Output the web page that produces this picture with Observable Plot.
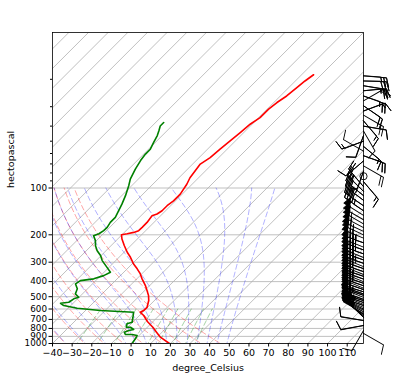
<!DOCTYPE html>
<html><head><meta charset="utf-8">
<script src="https://cdn.jsdelivr.net/npm/d3@7"></script>
<script src="https://cdn.jsdelivr.net/npm/@observablehq/plot@0.6"></script>
<style>html,body{margin:0;padding:0;background:#fff}#chart{width:400px;height:381px}</style>
</head><body><div id="chart"></div>
<script>
// ---- axis ticks ----
const xTicks = [-40,-30,-20,-10,0,10,20,30,40,50,60,70,80,90,100,110];
const yTicks = [100,200,300,400,500,600,700,800,900,1000];
const yMinorTicks = [20,30,40,50,60,70,80,90];
const isotherms = [-190,-180,-170,-160,-150,-140,-130,-120,-110,-100,-90,-80,-70,-60,-50,-40,-30,-20,-10,0,10,20,30,40,50,60,70,80,90,100,110];
const dryT0 = [-40,-30,-20,-10,0,10,20,30,40,50];
const moistT0 = [-40,-30,-20,-10,0,5,10,15,20,25,30,35,40,45,50];
const mixingRatios = [0.0004,0.001,0.002,0.004,0.007,0.01,0.016,0.024,0.032];

// ---- temperature profile (hPa, degC) ----
const tempP = [1000,911,846,786,722,661,630,614,585,529,492,457,424,384,357,331,308,279,259,235,213,200,197,193,188,179,166.5,150.6,147,140,130,121,109.5,94.6,85.9,70.2,63.7,56.3,49.8,44.0,38.9,35.3,31.1,28.2,25.6,22.5,20.5,18.7];
const tempT = [19.5,11.7,7.2,2.8,-2.9,-7.8,-11.2,-10.4,-10.3,-12.9,-15.5,-18.8,-22.2,-27.3,-30.7,-34.9,-39.2,-44.2,-48.4,-53.2,-57.8,-60.2,-57.8,-55.2,-53.6,-53.5,-53.5,-54.4,-52.7,-51.8,-51.8,-51.0,-51.0,-52.7,-54.4,-56.1,-54.4,-53.6,-52.7,-51.8,-51.0,-49.3,-49.3,-48.4,-46.8,-45.9,-45.1,-43.9];

// ---- dewpoint profile (hPa, degC) ----
const dewP = [1000,933,889,875,875,846,825,813,786,786,747,730,678,630,614,593,570,551,543,516,504,480,445,414,394,384,366,348,324,293,272,253,235,218,203,197,188,179,166.5,154.6,140,127,112,96.7,87.6,75.6,66.6,60.5,56.3,51.1,46.0,42.7,39.9,37.9];
const dewT = [0.5,-0.2,-1.0,-4.1,-7.5,-9.2,-7.8,-5.8,-8.6,-10.7,-12.1,-10.3,-12.4,-14.6,-32.4,-45.4,-53.6,-56.4,-52.7,-51.9,-50.2,-53.6,-55.2,-58.6,-57.8,-51.9,-48.5,-46.8,-51.0,-56.9,-60.3,-64.5,-67.9,-70.5,-73.9,-72.2,-71.4,-71.3,-72.2,-72.2,-73.9,-75.6,-78.1,-81.5,-84.1,-86.6,-88.3,-89.1,-89.1,-90.8,-92.5,-94.2,-95.9,-95.9];

// ---- winds (hPa, direction deg, speed kt) ----
const windP = [860,825,766,712,680,665,650,640,625,610,600,585,570,560,545,530,520,505,490,480,465,450,440,425,410,400,385,370,360,345,330,320,305,290,280,265,250,240,225,210,200,190,180,170,160,150,140,130,120,112,105,98,91,84,78,72,67,62,58,54,50,46,43,40,37,34,32,29.6,27.5,25.6,23.7,22,20.5,19];
const windDir = [120,210,260,280,315,310,305,300,298,295,295,292,290,292,290,288,290,292,290,290,288,290,292,290,290,292,290,290,292,290,290,292,290,290,292,290,290,292,290,292,295,295,298,300,300,302,305,305,308,310,315,320,140,0,200,120,230,110,300,130,250,200,150,100,140,120,70,125,60,110,85,100,92,95];
const windSpd = [10,10,10,10,30,35,40,45,50,55,55,60,60,65,60,55,60,65,65,60,55,55,60,65,70,70,65,60,60,65,70,75,75,70,70,75,80,80,75,70,65,60,55,55,50,50,45,40,35,30,25,20,15,0,5,20,10,20,10,15,15,10,10,10,15,20,15,20,20,25,20,25,30,25];

// ---- geometry of the skew ----
const X0 = -40, X1 = 118.3, SPAN = X1 - X0;
const skewX = (t, p) => t + SPAN * Math.log10(1000 / p) / 2;

const temp = tempP.map((p, i) => ({p, x: skewX(tempT[i], p)}));
const dew = dewP.map((p, i) => ({p, x: skewX(dewT[i], p)}));
const wind = windP.map((p, i) => ({p, dir: windDir[i], spd: windSpd[i]}));

// ---- background thermodynamic lines (MetPy defaults) ----
const Rd = 287.04749, Cp = 1004.6662, Lv = 2.50084e6, EPS = 0.621957, KAPPA = Rd / Cp;
const bgP = d3.range(1050, 99, -5);
const dry = [];
dryT0.forEach(t0 => bgP.forEach(p => dry.push({id: t0, p, x: skewX((t0 + 273.15) * Math.pow(p / 1050, KAPPA) - 273.15, p)})));
function satMix(T, p) { const es = 6.112 * Math.exp(17.67 * (T - 273.15) / (T - 29.65)); return EPS * es / (p - es); }
function dTdp(T, p) { const rs = satMix(T, p); return (Rd * T + Lv * rs) / (Cp + Lv * Lv * rs * EPS / (Rd * T * T)) / p; }
const moist = [];
moistT0.forEach(t0 => {
  let T = t0 + 273.15;
  bgP.forEach((p, i) => {
    if (i > 0) {
      const p0 = bgP[i - 1], h = p - p0;
      const k1 = dTdp(T, p0), k2 = dTdp(T + h / 2 * k1, p0 + h / 2), k3 = dTdp(T + h / 2 * k2, p0 + h / 2), k4 = dTdp(T + h * k3, p0 + h);
      T += h / 6 * (k1 + 2 * k2 + 2 * k3 + k4);
    }
    moist.push({id: t0, p, x: skewX(T - 273.15, p)});
  });
});
const mixP = d3.range(1050, 599, -10);
const mixing = [];
mixingRatios.forEach(w => mixP.forEach(p => {
  const e = p * w / (EPS + w), v = Math.log(e / 6.112);
  mixing.push({id: w, p, x: skewX(243.5 * v / (17.67 - v), p)});
}));

// ---- wind barb shape (matplotlib geometry) ----
const B = 3.3;
const barbShape = {
  draw(ctx, l) {
    let s = Math.round(l / 5) * 5;
    const len = 7, fh = 2.8, fw = 1.75, sp = 0.875;
    const nf = Math.floor(s / 50); s -= nf * 50;
    const nb = Math.floor(s / 10); s -= nb * 10;
    const half = s >= 5;
    const pts = [];
    let off = len;
    for (let i = 0; i < nf; i++) {
      if (off !== len) off += sp / 2;
      pts.push([0, off], [fh, off - fw / 2], [0, off - fw]);
      off -= fw + sp;
    }
    for (let i = 0; i < nb; i++) { pts.push([0, off], [fh, off + fw / 2], [0, off]); off -= sp; }
    if (half) {
      if (off === len) { pts.push([0, off]); off -= 1.5 * sp; }
      pts.push([0, off], [fh / 2, off + fw / 4], [0, off]);
    }
    ctx.moveTo(0, 0);
    for (const [x, y] of pts) ctx.lineTo(x * B, -y * B);
    ctx.closePath();
  }
};

const fmt = d => d < 0 ? "\u2212" + (-d) : String(d);
const grid = "#b0b0b0";

const chart = Plot.plot({
  width: 400, height: 381,
  marginLeft: 52, marginRight: 37, marginTop: 32, marginBottom: 38,
  style: {fontFamily: "DejaVu Sans", fontSize: "9px", background: "#fff", color: "#000", overflow: "visible"},
  x: {domain: [X0, X1]},
  y: {type: "log", domain: [1000, 10]},
  length: {type: "identity"},
  marks: [
    Plot.link(isotherms, {x1: d => d, y1: () => 1000, x2: d => d + SPAN, y2: () => 10, stroke: grid, strokeWidth: 0.8, clip: true}),
    Plot.ruleY(yTicks, {stroke: grid, strokeWidth: 0.8}),
    Plot.line(dry, {x: "x", y: "p", z: "id", stroke: "#ff0000", strokeOpacity: 0.4, strokeWidth: 0.9, strokeDasharray: "5,3", clip: true}),
    Plot.line(moist, {x: "x", y: "p", z: "id", stroke: "#0000ff", strokeOpacity: 0.35, strokeWidth: 0.9, strokeDasharray: "5,3", clip: true}),
    Plot.line(mixing, {x: "x", y: "p", z: "id", stroke: "#008000", strokeOpacity: 0.4, strokeWidth: 0.9, strokeDasharray: "5,3", clip: true}),
    Plot.line(temp, {x: "x", y: "p", stroke: "#ff0000", strokeWidth: 1.6, clip: true}),
    Plot.line(dew, {x: "x", y: "p", stroke: "#008000", strokeWidth: 1.6, clip: true}),
    Plot.frame({stroke: "#000", strokeWidth: 0.8}),
    Plot.axisX(xTicks, {tickSize: 3.5, tickPadding: 2, tickFormat: fmt, label: null, fontSize: 9.5}),
    Plot.axisY(yTicks, {tickSize: 3.5, tickFormat: () => "", label: null}),
    Plot.text(yTicks, {x: X0, y: d => d, text: d => String(d), textAnchor: "end", dx: -5.5, fontSize: 8.8}),
    Plot.axisY(yMinorTicks, {tickSize: 2, tickFormat: () => "", label: null}),
    Plot.text(["degree_Celsius"], {frameAnchor: "bottom", dy: 27, fontSize: 9.5}),
    Plot.text(["hectopascal"], {frameAnchor: "left", dx: -42, rotate: -90, fontSize: 9.5}),
    Plot.vector(wind.filter(d => d.spd >= 5), {x: () => X1, y: "p", rotate: "dir", length: "spd", anchor: "start", shape: barbShape, stroke: "#000", fill: "#000", strokeWidth: 0.9}),
    Plot.dot(wind.filter(d => d.spd < 5), {x: () => X1, y: "p", r: 3.6, stroke: "#000", fill: "none", strokeWidth: 0.9})
  ]
});
document.getElementById("chart").appendChild(chart);
</script></body></html>
